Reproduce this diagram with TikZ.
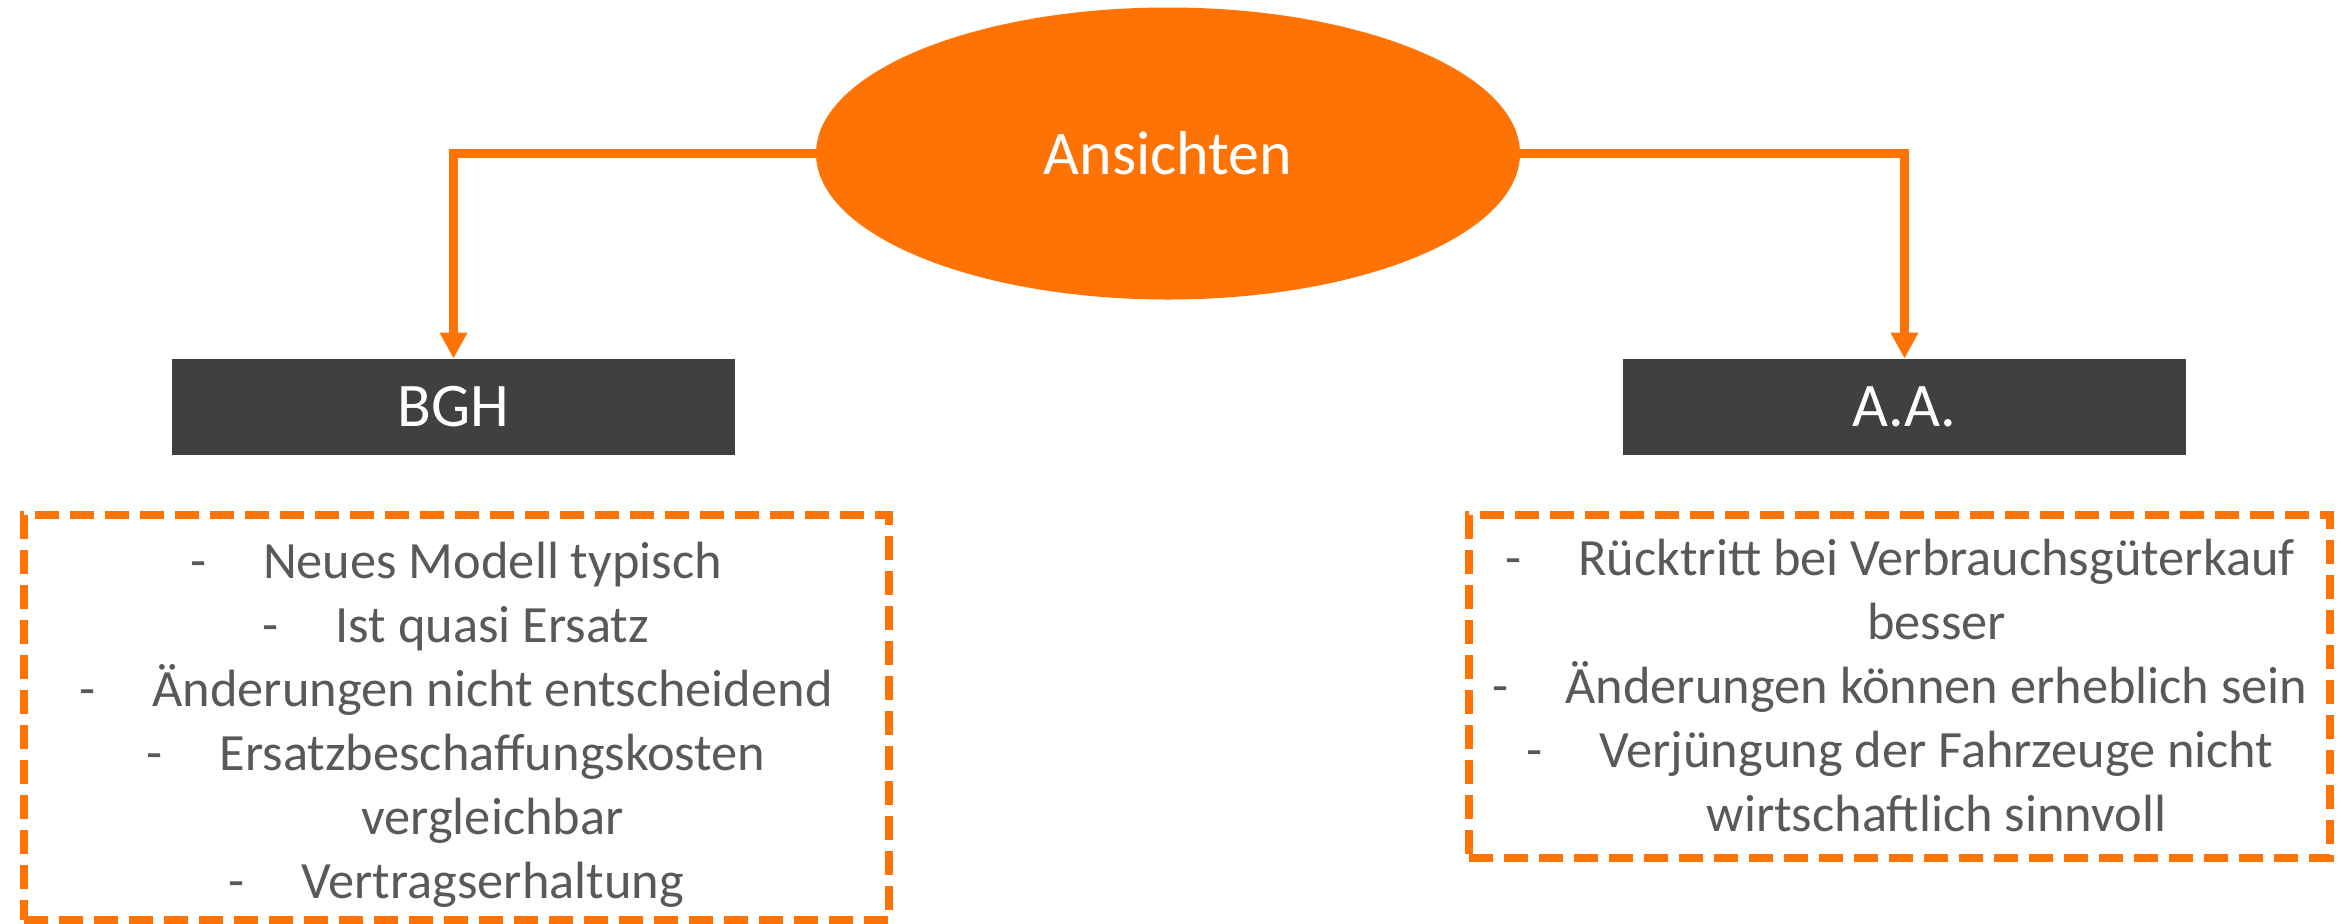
\documentclass[tikz,border=0pt]{standalone}
\usepackage{fontspec}
\setmainfont{Carlito}
\usetikzlibrary{shapes.geometric,arrows.meta}
\definecolor{orng}{RGB}{255,114,4}
\definecolor{dgrey}{RGB}{64,64,64}
\definecolor{tgrey}{RGB}{89,89,89}
\newcommand{\dsh}{\makebox[36.5pt][l]{-}}
\newcommand{\cont}{\hspace*{36.5pt}}
\tikzset{
  hub/.style={ellipse, fill=orng, text=white, inner sep=0pt, minimum width=352pt, minimum height=146pt, font=\fontsize{31}{37}\selectfont},
  head/.style={rectangle, fill=dgrey, text=white, inner sep=0pt, minimum width=281.5pt, minimum height=48pt, font=\fontsize{31}{37}\selectfont},
  frame/.style={rectangle, draw=orng, line width=3.75pt, dash pattern=on 12pt off 5.5pt, inner sep=0pt},
  listtext/.style={text=tgrey, align=center, inner sep=0pt, font=\fontsize{26.2}{32}\selectfont},
  conn/.style={draw=orng, line width=4.5pt, -{Triangle[length=13pt,width=13pt]}}
}
\begin{document}
\begin{tikzpicture}[x=0.5pt,y=-0.5pt]
\useasboundingbox (0,0) rectangle (2346,923);
\node[hub] (hub) at (1168,153.5) {Ansichten};
\node[head] (bgh) at (453.5,407) {BGH};
\node[head] (aa) at (1904.5,407) {A.A.};
\node[frame, minimum width=432.5pt, minimum height=202.5pt] (lbox) at (456.5,717.5) {};
\node[frame, minimum width=430.5pt, minimum height=171.5pt] (rbox) at (1899.5,686.5) {};
\node[listtext] (ltext) at (456,724.5) {%
\dsh Neues Modell typisch\\
\dsh Ist quasi Ersatz\\
\dsh Änderungen nicht entscheidend\\
\dsh Ersatzbeschaffungskosten\\
\cont vergleichbar\\
\dsh Vertragserhaltung};
\node[listtext] (rtext) at (1900,685.5) {%
\dsh Rücktritt bei Verbrauchsgüterkauf\\
\cont besser\\
\dsh Änderungen können erheblich sein\\
\dsh Verjüngung der Fahrzeuge nicht\\
\cont wirtschaftlich sinnvoll};
\draw[conn] (hub.west) -| (bgh.north);
\draw[conn] (hub.east) -| (aa.north);
\end{tikzpicture}
\end{document}
